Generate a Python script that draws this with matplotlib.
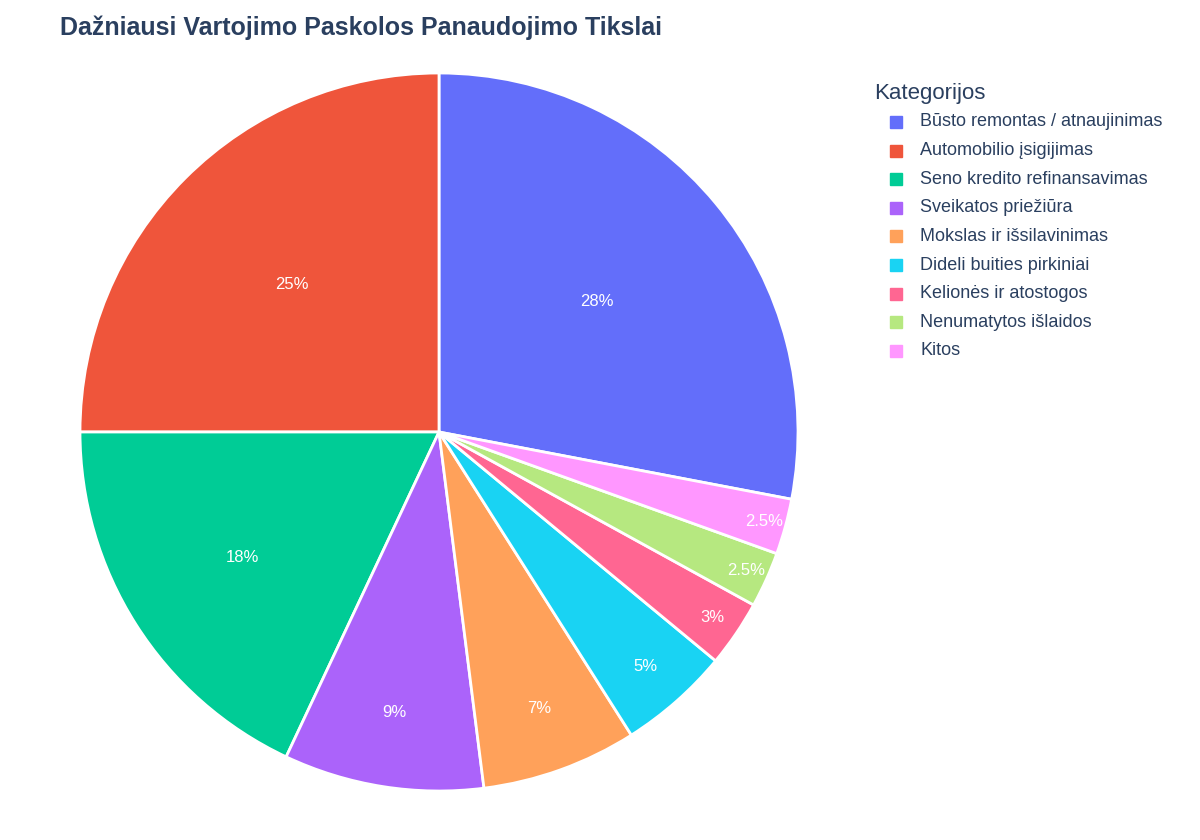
import matplotlib.pyplot as plt
import numpy as np

plt.rcParams["font.family"] = "Liberation Sans"

labels = ["Būsto remontas / atnaujinimas", "Automobilio įsigijimas", "Seno kredito refinansavimas",
          "Sveikatos priežiūra", "Mokslas ir išsilavinimas", "Dideli buities pirkiniai",
          "Kelionės ir atostogos", "Nenumatytos išlaidos", "Kitos"]
values = [28, 25, 18, 9, 7, 5, 3, 2.5, 2.5]
colors = ["#636EFA", "#EF553B", "#00CC96", "#AB63FA", "#FFA15A", "#19D3F3", "#FF6692", "#B6E880", "#FF97FF"]
label_radius = [0.57, 0.58, 0.65, 0.79, 0.82, 0.87, 0.92, 0.94, 0.94]

fig = plt.figure(figsize=(12, 8.4), dpi=100)
R = 359
ax = fig.add_axes([(439 - R) / 1200, 1 - (432 + R) / 840, 2 * R / 1200, 2 * R / 840])
start = 90 - values[0] / 100 * 360
wedges, texts = ax.pie(values, colors=colors, startangle=start, counterclock=True,
                       wedgeprops=dict(edgecolor="white", linewidth=2))
ax.set_xlim(-1, 1)
ax.set_ylim(-1, 1)
ax.set_aspect("equal")
total = sum(values)
ang = start
for v, r in zip(values, label_radius):
    mid = np.deg2rad(ang + v / total * 180)
    ax.text(r * np.cos(mid), r * np.sin(mid), f"{v:g}%", ha="center", va="center",
            color="white", fontsize=12)
    ang += v / total * 360

fig.text(60 / 1200, 1 - 28 / 840, "Dažniausi Vartojimo Paskolos Panaudojimo Tikslai", fontsize=18,
         fontweight="bold", color="#2a3f5f", va="center")
fig.text(874 / 1200, 1 - 94 / 840, "Kategorijos", fontsize=16, color="#2a3f5f", va="center")
for i, (l, c) in enumerate(zip(labels, colors)):
    y = 1 - (122 + i * 28.6) / 840
    fig.patches.append(plt.Rectangle((890 / 1200, y - 6 / 840), 12 / 1200, 12 / 840, color=c,
                                     transform=fig.transFigure))
    fig.text(920 / 1200, y, l, fontsize=13, color="#2a3f5f", va="center")
fig.savefig("out.png")
